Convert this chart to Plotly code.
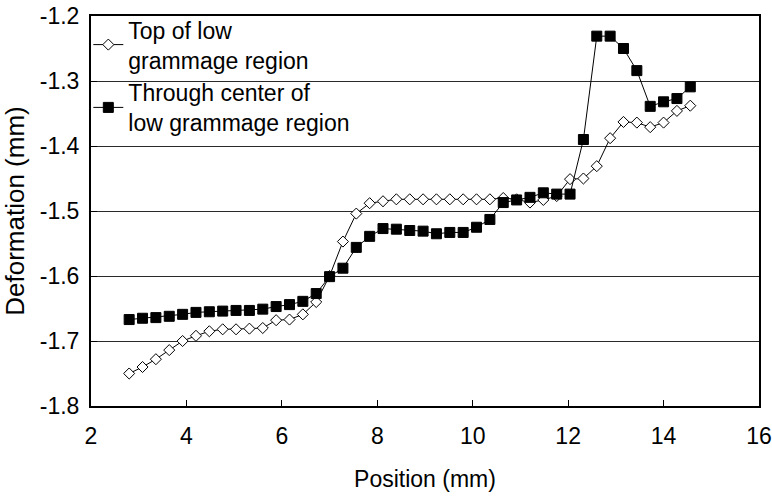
import plotly.graph_objects as go

# Position (mm)
position = [2.80, 3.08, 3.36, 3.64, 3.92, 4.20, 4.48, 4.76, 5.04, 5.32,
            5.60, 5.88, 6.16, 6.44, 6.72, 7.00, 7.28, 7.56, 7.84, 8.12,
            8.40, 8.68, 8.96, 9.24, 9.52, 9.80, 10.08, 10.36, 10.64, 10.92,
            11.20, 11.48, 11.76, 12.04, 12.32, 12.60, 12.88, 13.16, 13.44, 13.72,
            14.00, 14.28, 14.56]

top_of_region = [-1.750, -1.740, -1.728, -1.714, -1.700, -1.692, -1.685, -1.682, -1.682, -1.681,
                 -1.680, -1.668, -1.667, -1.659, -1.640, -1.600, -1.547, -1.504, -1.488, -1.485,
                 -1.482, -1.482, -1.482, -1.482, -1.482, -1.482, -1.482, -1.482, -1.480, -1.482,
                 -1.487, -1.483, -1.477, -1.451, -1.450, -1.431, -1.388, -1.363, -1.364, -1.371,
                 -1.364, -1.346, -1.338]

through_center = [-1.667, -1.665, -1.664, -1.662, -1.659, -1.656, -1.655, -1.654, -1.653, -1.653,
                  -1.651, -1.647, -1.644, -1.639, -1.627, -1.601, -1.588, -1.556, -1.539, -1.527,
                  -1.528, -1.530, -1.531, -1.535, -1.533, -1.533, -1.525, -1.513, -1.487, -1.483,
                  -1.479, -1.472, -1.474, -1.474, -1.390, -1.231, -1.231, -1.250, -1.284, -1.339,
                  -1.332, -1.327, -1.309]

x_ticks = [2, 4, 6, 8, 10, 12, 14, 16]
y_ticks = [-1.8, -1.7, -1.6, -1.5, -1.4, -1.3, -1.2]

FONT = "Liberation Sans, Arial, sans-serif"

fig = go.Figure()
fig.add_trace(go.Scatter(
    x=position, y=top_of_region, mode="lines+markers",
    name="Top of low<br>grammage region",
    line=dict(color="black", width=1),
    marker=dict(symbol="diamond", size=8.5, color="white",
                line=dict(color="black", width=1)),
))
fig.add_trace(go.Scatter(
    x=position, y=through_center, mode="lines+markers",
    name="Through center of<br>low grammage region",
    line=dict(color="black", width=1),
    marker=dict(symbol="square", size=10, color="black",
                line=dict(color="black", width=1)),
))

# white backing behind the legend (hides the grid line there, like the original box)
fig.add_shape(type="rect", xref="paper", yref="paper",
              x0=0.0135, x1=0.358, y0=0.73, y1=0.995,
              fillcolor="white", line=dict(width=0), layer="between")

fig.update_layout(
    width=772, height=499,
    template="none",
    margin=dict(l=91, r=13, t=16, b=93, autoexpand=False),
    paper_bgcolor="white", plot_bgcolor="white",
    font=dict(family=FONT, color="black", size=23),
    showlegend=True,
    legend=dict(x=-0.004, y=1.02, xanchor="left", yanchor="top",
                bgcolor="rgba(0,0,0,0)", borderwidth=0,
                font=dict(size=23, family=FONT),
                tracegroupgap=0, itemwidth=30),
    xaxis=dict(range=[2, 16], tickvals=x_ticks, ticktext=[str(v) for v in x_ticks],
               automargin=False,
               showgrid=False, zeroline=False,
               showline=True, linecolor="black", linewidth=2, mirror=True,
               ticks="inside", ticklen=6, tickcolor="black", tickwidth=1,
               ticklabelstandoff=8,
               title=dict(text="Position (mm)", font=dict(size=23), standoff=23)),
    yaxis=dict(range=[-1.8, -1.2], tickvals=y_ticks, ticktext=[f"{v:.1f}" for v in y_ticks],
               automargin=False,
               showgrid=True, gridcolor="#2a2a2a", gridwidth=1, zeroline=False,
               showline=True, linecolor="black", linewidth=2, mirror=True,
               ticks="inside", ticklen=6, tickcolor="black", tickwidth=1,
               ticklabelstandoff=5,
               title=dict(text="Deformation (mm)", font=dict(size=26), standoff=10)),
)

fig.write_html("out.html")
